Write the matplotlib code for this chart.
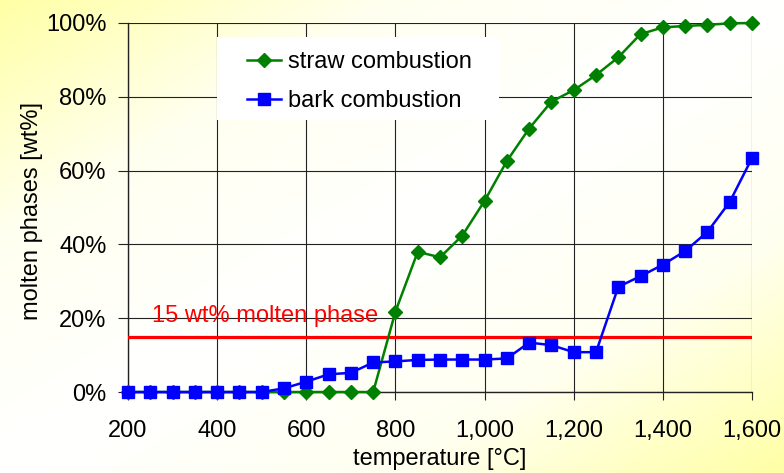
import numpy as np
import matplotlib; matplotlib.use("Agg")
import matplotlib.pyplot as plt
from matplotlib.colors import LinearSegmentedColormap
from matplotlib.patches import Rectangle
from matplotlib.ticker import FuncFormatter, PercentFormatter

plt.rcParams["font.family"] = ["Liberation Sans", "DejaVu Sans"]

# data (temperature in °C, molten phase in %)
temperature = [200, 250, 300, 350, 400, 450, 500, 550, 600, 650, 700, 750, 800, 850, 900,
               950, 1000, 1050, 1100, 1150, 1200, 1250, 1300, 1350, 1400, 1450, 1500, 1550, 1600]
straw = [0, 0, 0, 0, 0, 0, 0, 0, 0, 0, 0, 0, 21.8, 38.0, 36.5,
         42.4, 51.8, 62.6, 71.4, 78.7, 81.8, 85.9, 90.7, 97.0, 98.8, 99.2, 99.5, 99.9, 100]
bark = [0, 0, 0, 0, 0, 0, 0, 1.0, 2.8, 4.8, 5.2, 8.0, 8.3, 8.7, 8.8,
        8.8, 8.8, 9.1, 13.4, 12.7, 10.8, 10.8, 28.5, 31.4, 34.5, 38.2, 43.4, 51.5, 63.4]
threshold = 15
threshold_label = "15 wt% molten phase"

FS = 17
fig = plt.figure(figsize=(7.84, 4.73), dpi=100)

# diagonal yellow-white-yellow background
bg = fig.add_axes([0, 0, 1, 1], zorder=-10)
u, v = np.meshgrid(np.linspace(0, 1, 400), np.linspace(0, 1, 240))
grad = np.abs(u + v - 1)
cmap = LinearSegmentedColormap.from_list("bg", ["#ffffff", "#fffff0", "#ffffa6"])
bg.imshow(grad, cmap=cmap, aspect="auto", extent=[0, 1, 0, 1], origin="upper")
bg.axis("off")

ax = fig.add_axes([0.1633, 0.1712, 0.7959, 0.7802])
ax.set_facecolor("none")

ax.plot(temperature, straw, color="#008000", lw=1.8, marker="D", ms=7,
        label="straw combustion", zorder=4, clip_on=False)
ax.plot(temperature, bark, color="#0000ff", lw=1.8, marker="s", ms=8,
        label="bark combustion", zorder=5, clip_on=False)
ax.axhline(threshold, color="#ff0000", lw=2.3, zorder=3)
ax.text(254, 19.0, threshold_label, color="#ff0000", fontsize=FS,
        va="baseline", ha="left", zorder=3)

ax.set_xlim(200, 1600)
ax.set_ylim(0, 100)
ax.set_xticks(range(200, 1601, 200))
ax.set_yticks(range(0, 101, 20))
ax.xaxis.set_major_formatter(FuncFormatter(lambda x, p: f"{int(x):,}"))
ax.yaxis.set_major_formatter(PercentFormatter(decimals=0))
ax.grid(True, color="#222222", lw=0.8)
ax.set_axisbelow(True)
for s in ["top", "right"]:
    ax.spines[s].set_visible(False)
for s in ["left", "bottom"]:
    ax.spines[s].set_color("#222222")
    ax.spines[s].set_linewidth(1.0)
ax.tick_params(axis="both", labelsize=FS, color="#222222", width=0.8)
ax.tick_params(axis="y", length=7, pad=8.5)
ax.tick_params(axis="x", length=6, pad=14)
ax.set_xlabel("temperature [°C]", fontsize=FS, labelpad=4.5)
ax.set_ylabel("molten phases [wt%]", fontsize=FS)
ax.yaxis.set_label_coords(-0.136, 0.49)

# white legend panel, no border
ax.add_patch(Rectangle((0.143, 0.737), 0.452, 0.225, transform=ax.transAxes,
                       facecolor="white", edgecolor="none", zorder=6))
leg = ax.legend(loc="upper left", bbox_to_anchor=(0.19, 0.924), borderaxespad=0,
                borderpad=0, fontsize=FS, frameon=False, handlelength=1.45,
                labelspacing=0.72, handletextpad=0.3)
leg.set_zorder(7)

fig.savefig("out.png", dpi=100)
